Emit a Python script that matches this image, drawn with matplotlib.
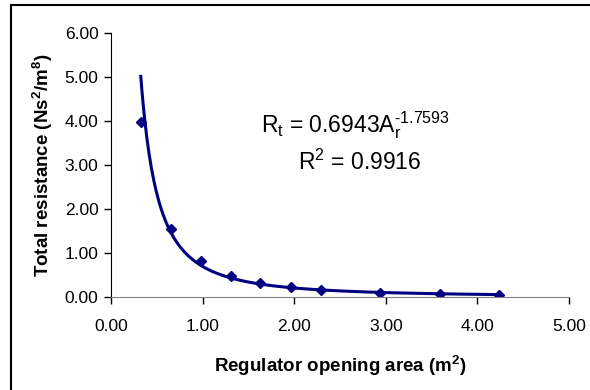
import numpy as np
import matplotlib.pyplot as plt
from matplotlib.lines import Line2D

plt.rcParams['font.family'] = ['Liberation Sans', 'DejaVu Sans']

# measured points
area = [0.325, 0.65, 0.98, 1.31, 1.63, 1.96, 2.29, 2.94, 3.59, 4.24]
resistance = [3.97, 1.55, 0.81, 0.48, 0.32, 0.23, 0.17, 0.10, 0.07, 0.04]

# power trendline shown on the chart
coef = 0.6943
expo = -1.7593

navy = "#000080"

fig = plt.figure(figsize=(5.9, 3.9), dpi=100)
ax = fig.add_axes([111/590, 1-297/390, (569-111)/590, (297-33)/390])

xs = np.linspace(min(area), max(area), 300)
ax.plot(xs, coef * xs**expo, color=navy, lw=2.2)
ax.plot(area, resistance, linestyle="none", marker="D", ms=5.5, color=navy)

ax.set_xlim(0, 5)
ax.set_ylim(0, 6)
ax.set_xticks(np.arange(0, 5.01, 1))
ax.set_yticks(np.arange(0, 6.01, 1))
ax.set_xticklabels([f"{v:.2f}" for v in np.arange(0, 5.01, 1)])
ax.set_yticklabels([f"{v:.2f}" for v in np.arange(0, 6.01, 1)])
ax.tick_params(labelsize=12.5, direction="out", length=5, width=1, pad=4)
ax.tick_params(axis="x", pad=11)
ax.spines["top"].set_visible(False)
ax.spines["right"].set_visible(False)
ax.spines["left"].set_color("black")
ax.spines["bottom"].set_color("#808080")

ax.set_xlabel("Regulator opening area (m$^\\mathregular{2}$)", fontsize=13.5, fontweight="bold", labelpad=14)
ax.set_ylabel("Total resistance (Ns$^\\mathregular{2}$/m$^\\mathregular{8}$)", fontsize=13.5, fontweight="bold", labelpad=7)

ax.text(1.64, 3.73, "R$_\\mathregular{t}$ = 0.6943A$_\\mathregular{r}^\\mathregular{\u20101.7593}$",
        fontsize=16.5, ha="left", va="baseline")
ax.text(2.04, 2.89, r"R$^\mathregular{2}$ = 0.9916", fontsize=16.5, ha="left", va="baseline")

# outer chart border (left and top visible)
fig.add_artist(Line2D([11/590, 11/590], [0, 1-5/390], color="black", lw=1.5, transform=fig.transFigure))
fig.add_artist(Line2D([11/590, 1], [1-5/390, 1-5/390], color="black", lw=1.5, transform=fig.transFigure))

fig.savefig("out.png", dpi=100)
